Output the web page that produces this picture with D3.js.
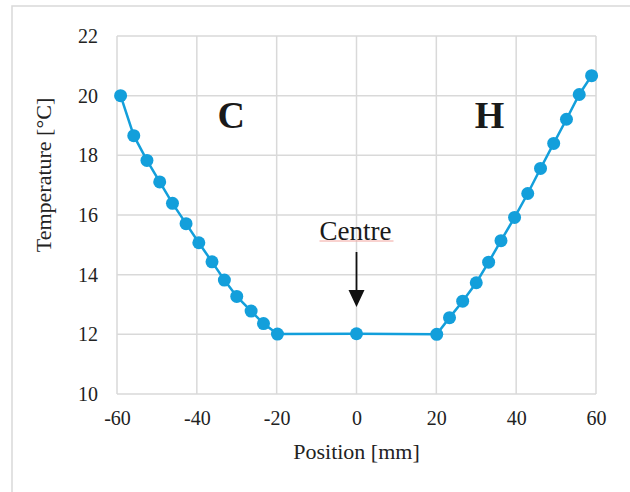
<!DOCTYPE html>
<html>
<head>
<meta charset="utf-8">
<script src="https://cdn.jsdelivr.net/npm/d3@7"></script>
<style>
  body { margin: 0; background: #fff; }
  svg { display: block; }
  svg text { font-family: "Liberation Serif", "Times New Roman", serif; }
  .grid line { stroke: #d9d9d9; stroke-width: 1.5; }
  .tick text { fill: #222; font-size: 20px; }
</style>
</head>
<body>
<svg id="chart" width="630" height="492"></svg>
<script>
// positions (mm)
const positions = [-59.1, -55.8, -52.5, -49.3, -46.1, -42.7, -39.5, -36.2, -33.1, -30.0, -26.4, -23.3, -19.8,
    0,
    20.1, 23.3, 26.6, 30.0, 33.1, 36.2, 39.6, 42.9, 46.1, 49.4, 52.6, 55.8, 58.9];
// temperature (°C)
const temps = [20.0, 18.66, 17.83, 17.11, 16.39, 15.71, 15.07, 14.43, 13.82, 13.27, 12.78, 12.36, 12.01,
    12.02,
    12.0, 12.56, 13.11, 13.73, 14.42, 15.14, 15.92, 16.72, 17.56, 18.40, 19.21, 20.04, 20.67];

const xTicks = [-60, -40, -20, 0, 20, 40, 60];
const yTicks = [10, 12, 14, 16, 18, 20, 22];

const regionLabels = [
    { text: "C", x: -31.4, y: 20.0 },
    { text: "H", x: 33.3, y: 20.0 }
];

const svg = d3.select("#chart");
const blue = "#139fdb";

// outer chart frame (only left and top visible)
svg.append("path")
    .attr("d", "M12,492 L12,6 L630,6")
    .attr("fill", "none")
    .attr("stroke", "#d9d9d9")
    .attr("stroke-width", 1.5);

const x = d3.scaleLinear().domain([-60, 60]).range([117, 596]);
const y = d3.scaleLinear().domain([10, 22]).range([394, 36]);

// gridlines
const grid = svg.append("g").attr("class", "grid");
grid.selectAll(".v").data(xTicks).enter().append("line")
    .attr("x1", d => x(d)).attr("x2", d => x(d))
    .attr("y1", y(10)).attr("y2", y(22));
grid.selectAll(".h").data(yTicks).enter().append("line")
    .attr("x1", x(-60)).attr("x2", x(60))
    .attr("y1", d => y(d)).attr("y2", d => y(d));

// axes (labels only)
const xAxis = svg.append("g")
    .attr("transform", `translate(0,${y(10)})`)
    .call(d3.axisBottom(x).tickValues(xTicks).tickSize(0).tickPadding(17).tickFormat(d3.format("d")));
const yAxis = svg.append("g")
    .attr("transform", `translate(${x(-60)},0)`)
    .call(d3.axisLeft(y).tickValues(yTicks).tickSize(0).tickPadding(19).tickFormat(d3.format("d")));
[xAxis, yAxis].forEach(a => {
    a.select(".domain").remove();
    a.attr("font-family", null).attr("font-size", null);
});
xAxis.selectAll("text").text(d => d < 0 ? "-" + Math.abs(d) : d);

// axis titles
svg.append("text")
    .attr("x", x(0)).attr("y", 459)
    .attr("text-anchor", "middle")
    .attr("font-size", 22).attr("fill", "#222")
    .text("Position [mm]");
svg.append("text")
    .attr("transform", "translate(51,175) rotate(-90)")
    .attr("text-anchor", "middle")
    .attr("font-size", 22).attr("fill", "#222")
    .text("Temperature [°C]");

// series
const pts = positions.map((p, i) => ({ p: p, t: temps[i] }));
const line = d3.line().x(d => x(d.p)).y(d => y(d.t));
svg.append("path")
    .datum(pts)
    .attr("d", line)
    .attr("fill", "none")
    .attr("stroke", blue)
    .attr("stroke-width", 2.5);
svg.append("g").selectAll("circle")
    .data(pts)
    .enter().append("circle")
    .attr("cx", d => x(d.p))
    .attr("cy", d => y(d.t))
    .attr("r", 6.5)
    .attr("fill", blue);

// region labels
svg.selectAll(".region")
    .data(regionLabels)
    .enter().append("text")
    .attr("x", d => x(d.x)).attr("y", d => y(d.y) + 32)
    .attr("text-anchor", "middle")
    .attr("font-size", 38).attr("font-weight", "bold").attr("fill", "#1a1a1a")
    .text(d => d.text);

// centre annotation
const cx = x(0);
svg.append("text")
    .attr("x", cx - 1).attr("y", 239.5)
    .attr("text-anchor", "middle")
    .attr("font-size", 27).attr("fill", "#1a1a1a")
    .text("Centre");
svg.append("line")
    .attr("x1", cx - 37).attr("x2", cx + 37)
    .attr("y1", 241).attr("y2", 241)
    .attr("stroke", "#f2a6a0").attr("stroke-width", 1);
svg.append("line")
    .attr("x1", cx).attr("x2", cx)
    .attr("y1", 252).attr("y2", 292)
    .attr("stroke", "#111").attr("stroke-width", 1.8);
svg.append("path")
    .attr("d", `M${cx - 8},290 L${cx + 8},290 L${cx},307 Z`)
    .attr("fill", "#111");
</script>
</body>
</html>
